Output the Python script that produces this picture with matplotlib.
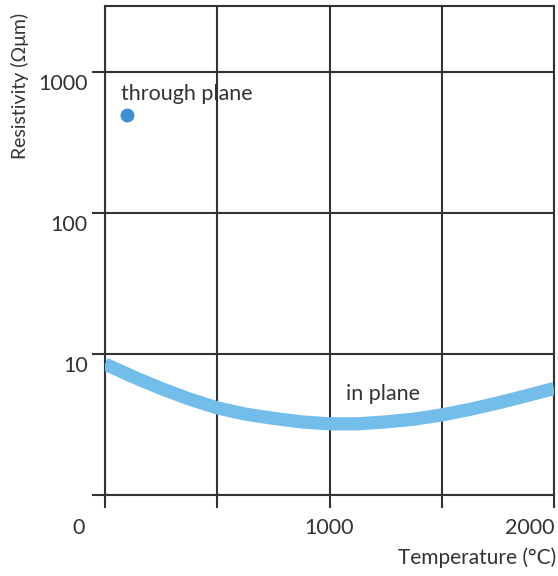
import matplotlib
matplotlib.use("Agg")
import matplotlib.pyplot as plt
from matplotlib.transforms import ScaledTranslation

plt.rcParams['font.family'] = ['Lato', 'DejaVu Sans']

# in-plane resistivity vs temperature
inplane_temp = [0, 125, 250, 375, 500, 625, 750, 875, 1000, 1125, 1250, 1375, 1500, 1625, 1750, 1875, 2000]
inplane_res = [8.5, 6.9, 5.7, 4.8, 4.15, 3.75, 3.5, 3.3, 3.2, 3.2, 3.3, 3.45, 3.7, 4.05, 4.5, 5.05, 5.7]

# through-plane point
through_temp = [100]
through_res = [500]

xticks = [0, 500, 1000, 1500, 2000]
xticklabels = ['0', '', '1000', '', '2000']
yticks = [1, 10, 100, 1000]
yticklabels = ['', '10', '100', '1000']

dark = '#333333'
fig = plt.figure(figsize=(5.58, 5.76), dpi=100)
ax = fig.add_axes([105/558, 81/576, 449/558, 489/576])

ax.set_yscale('log')
ax.set_xlim(0, 2000)
ax.set_ylim(1, 2950)

ax.plot(inplane_temp, inplane_res, color='#72bde9', lw=9.5, solid_capstyle='butt',
        solid_joinstyle='round', zorder=3)
ax.plot(through_temp, through_res, 'o', color='#3f8fd4', ms=9, zorder=4)

ax.text(70, 700, 'through plane', fontsize=15.5, color=dark, va='center', ha='left')
ax.text(1075, 5.2, 'in plane', fontsize=15.5, color=dark, va='center', ha='left')

ax.set_xticks(xticks)
ax.set_xticklabels(xticklabels)
ax.set_yticks(yticks)
ax.set_yticklabels(yticklabels)
ax.yaxis.set_minor_locator(matplotlib.ticker.NullLocator())

ax.grid(True, color=dark, lw=1.5)
ax.set_axisbelow(True)
for s in ax.spines.values():
    s.set_color(dark)
    s.set_linewidth(1.5)

ax.tick_params(axis='both', which='major', length=9.5, width=1.5, color=dark,
               labelsize=15.5, labelcolor=dark, direction='out')
ax.tick_params(axis='x', pad=7)
ax.tick_params(axis='y', pad=3)

# offset tick labels
for lab in ax.get_yticklabels():
    lab.set_transform(lab.get_transform() + ScaledTranslation(0, -10/100, fig.dpi_scale_trans))
xl = ax.get_xticklabels()
xl[0].set_transform(xl[0].get_transform() + ScaledTranslation(-26/100, 0, fig.dpi_scale_trans))
xl[4].set_ha('right')

fig.text(20/558, 1 - 86/576, 'Resistivity (Ωμm)', rotation=90, fontsize=14, color=dark,
         ha='center', va='center')
fig.text(556/558, 1 - 558/576, 'Temperature (°C)', fontsize=15, color=dark,
         ha='right', va='center')

fig.savefig('out.png', dpi=100)
